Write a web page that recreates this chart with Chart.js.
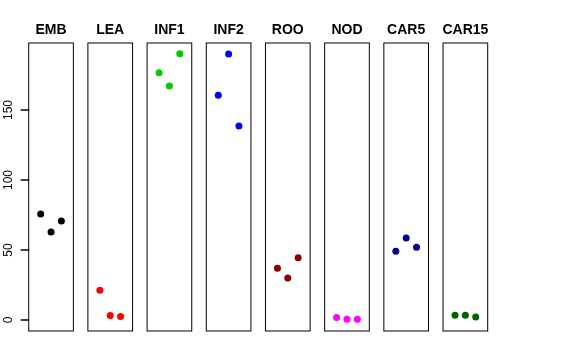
<!DOCTYPE html>
<html>
<head>
<meta charset="utf-8">
<script src="https://cdn.jsdelivr.net/npm/chart.js@4/dist/chart.umd.min.js"></script>
<style>
  html, body { margin: 0; padding: 0; background: #fff; }
  #wrap { width: 576px; height: 360px; }
</style>
</head>
<body>
<div id="wrap"><canvas id="chart" width="576" height="360"></canvas></div>
<script>
// categories (one small panel each)
const panels = ['EMB', 'LEA', 'INF1', 'INF2', 'ROO', 'NOD', 'CAR5', 'CAR15'];
const panelColors = ['#000000', '#FF0000', '#00CD00', '#0000FF', '#8B0000', '#FF00FF', '#00008B', '#006400'];

// three replicate values per panel
const EMB   = [75.7, 62.9, 70.7];
const LEA   = [21.2, 3.1, 2.4];
const INF1  = [176.7, 167.1, 190.2];
const INF2  = [160.5, 190.0, 138.6];
const ROO   = [36.9, 30.0, 44.5];
const NOD   = [1.7, 0.5, 0.5];
const CAR5  = [49.0, 58.6, 51.9];
const CAR15 = [3.3, 3.3, 2.1];
const seriesValues = [EMB, LEA, INF1, INF2, ROO, NOD, CAR5, CAR15];

const yTicks = [0, 50, 100, 150];

// panel layout in x units: points at 1..3, panel spans XMIN..XMAX, panels every STEP
const XMIN = -0.16, XMAX = 4.16, STEP = 5.725;

const datasets = panels.map((name, i) => ({
    label: name,
    data: seriesValues[i].map((v, k) => ({ x: i * STEP + k + 1, y: v })),
    backgroundColor: panelColors[i],
    borderColor: panelColors[i],
    pointRadius: 3.5,
    pointHoverRadius: 3.5,
    borderWidth: 0
}));

const panelPlugin = {
    id: 'panels',
    afterDraw(chart) {
        const ctx = chart.ctx;
        const xs = chart.scales.x;
        const ys = chart.scales.y;
        const top = ys.getPixelForValue(ys.max);
        const bottom = ys.getPixelForValue(ys.min);
        const left = xs.getPixelForValue(xs.min);

        // y tick marks
        ctx.save();
        ctx.strokeStyle = '#000000';
        ctx.lineWidth = 1.5;
        yTicks.forEach(v => {
            const y = Math.round(ys.getPixelForValue(v));
            ctx.beginPath();
            ctx.moveTo(left - 8, y);
            ctx.lineTo(left + 0.5, y);
            ctx.stroke();
        });
        ctx.restore();

        // panel boxes and titles
        ctx.save();
        ctx.fillStyle = '#000000';
        ctx.strokeStyle = '#000000';
        ctx.lineWidth = 1;
        ctx.font = 'bold 14px "Liberation Sans", Arial, sans-serif';
        ctx.textAlign = 'center';
        ctx.textBaseline = 'alphabetic';
        panels.forEach((name, i) => {
            const x0 = xs.getPixelForValue(i * STEP + XMIN);
            const x1 = xs.getPixelForValue(i * STEP + XMAX);
            ctx.strokeRect(x0, top, x1 - x0, bottom - top);
            ctx.fillText(name, (x0 + x1) / 2, 34);
        });

        // rotated y tick labels
        ctx.font = '12px "Liberation Sans", Arial, sans-serif';
        ctx.textBaseline = 'middle';
        yTicks.forEach(v => {
            const y = ys.getPixelForValue(v);
            ctx.save();
            ctx.translate(9, y);
            ctx.rotate(-Math.PI / 2);
            ctx.fillText(String(v), 0, 0);
            ctx.restore();
        });
        ctx.restore();
    }
};

new Chart(document.getElementById('chart').getContext('2d'), {
    type: 'scatter',
    data: { datasets: datasets },
    options: {
        responsive: false,
        animation: false,
        layout: { padding: { left: 28.7, right: 88.3, top: 43, bottom: 29 } },
        plugins: {
            legend: { display: false },
            tooltip: { enabled: false },
            title: { display: false }
        },
        scales: {
            x: {
                type: 'linear',
                display: false,
                min: XMIN,
                max: (panels.length - 1) * STEP + XMAX
            },
            y: {
                type: 'linear',
                display: false,
                min: -7.9,
                max: 197.9
            }
        }
    },
    plugins: [panelPlugin]
});
</script>
</body>
</html>
